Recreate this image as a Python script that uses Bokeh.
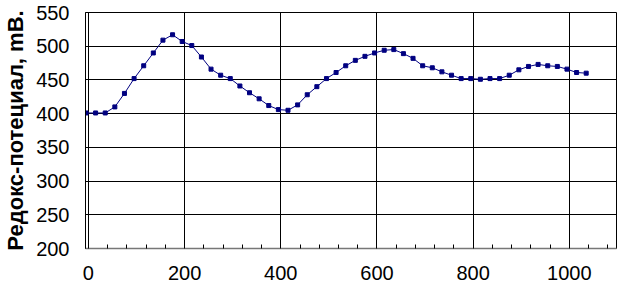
from bokeh.plotting import figure
from bokeh.models import Range1d, SingleIntervalTicker, FixedTicker
from bokeh.embed import file_html
from bokeh.resources import INLINE

# time
time = [-5, 15, 35, 55, 75, 95, 115, 135, 155, 175,
        195, 215, 235, 255, 275, 295, 315, 335, 355, 375,
        395, 415, 435, 455, 475, 495, 515, 535, 555, 575,
        595, 615, 635, 655, 675, 695, 715, 735, 755, 775,
        795, 815, 835, 855, 875, 895, 915, 935, 955, 975,
        995, 1015, 1035]
# redox potential, mV
redox = [401, 401, 401, 410, 430, 452, 471, 490, 509, 517,
         507, 501, 484, 466, 457, 452, 441, 431, 422, 412,
         406, 405, 413, 428, 440, 452, 461, 471, 479, 485,
         490, 494, 495, 489, 482, 471, 468, 462, 457, 452,
         452, 451, 452, 452, 457, 465, 470, 473, 471, 470,
         466, 461, 460]

x_ticks = [0, 200, 400, 600, 800, 1000]
y_ticks = [200, 250, 300, 350, 400, 450, 500, 550]

p = figure(width=617, height=288, output_backend="svg", toolbar_location=None,
           x_range=Range1d(-6, 1098), y_range=Range1d(200, 550),
           min_border_left=83, min_border_right=1, min_border_top=12,
           min_border_bottom=40)

p.background_fill_color = "white"
p.border_fill_color = "white"
p.outline_line_color = "black"
p.outline_line_width = 1

p.xaxis.ticker = SingleIntervalTicker(interval=200, num_minor_ticks=5)
p.yaxis.ticker = FixedTicker(ticks=y_ticks)
p.xgrid.ticker = FixedTicker(ticks=x_ticks)
p.ygrid.ticker = FixedTicker(ticks=y_ticks)
p.xgrid.grid_line_color = "black"
p.ygrid.grid_line_color = "black"

for ax in (p.xaxis[0], p.yaxis[0]):
    ax.major_label_text_font = "Liberation Sans"
    ax.major_label_text_font_size = "20px"
    ax.major_label_text_color = "black"
    ax.major_tick_in = 0
    ax.major_tick_out = 0

p.xaxis.axis_line_color = "#777777"
p.xaxis.axis_line_width = 1.5
p.xaxis.minor_tick_in = 4
p.xaxis.minor_tick_out = 0
p.xaxis.minor_tick_line_color = "black"
p.xaxis.major_label_standoff = 17

p.yaxis.axis_line_color = "black"
p.yaxis.minor_tick_line_color = None
p.yaxis.major_label_standoff = 16
p.yaxis.axis_label = "Редокс-потециал, mВ."
p.yaxis.axis_label_text_font = "Liberation Sans"
p.yaxis.axis_label_text_font_style = "bold"
p.yaxis.axis_label_text_font_size = "22px"
p.yaxis.axis_label_text_color = "black"
p.yaxis.axis_label_standoff = 5

p.line(time, redox, line_color="#000080", line_width=1)
p.scatter(time, redox, marker="square", size=4, color="#000080")

open("out.html", "w").write(file_html(p, INLINE))
